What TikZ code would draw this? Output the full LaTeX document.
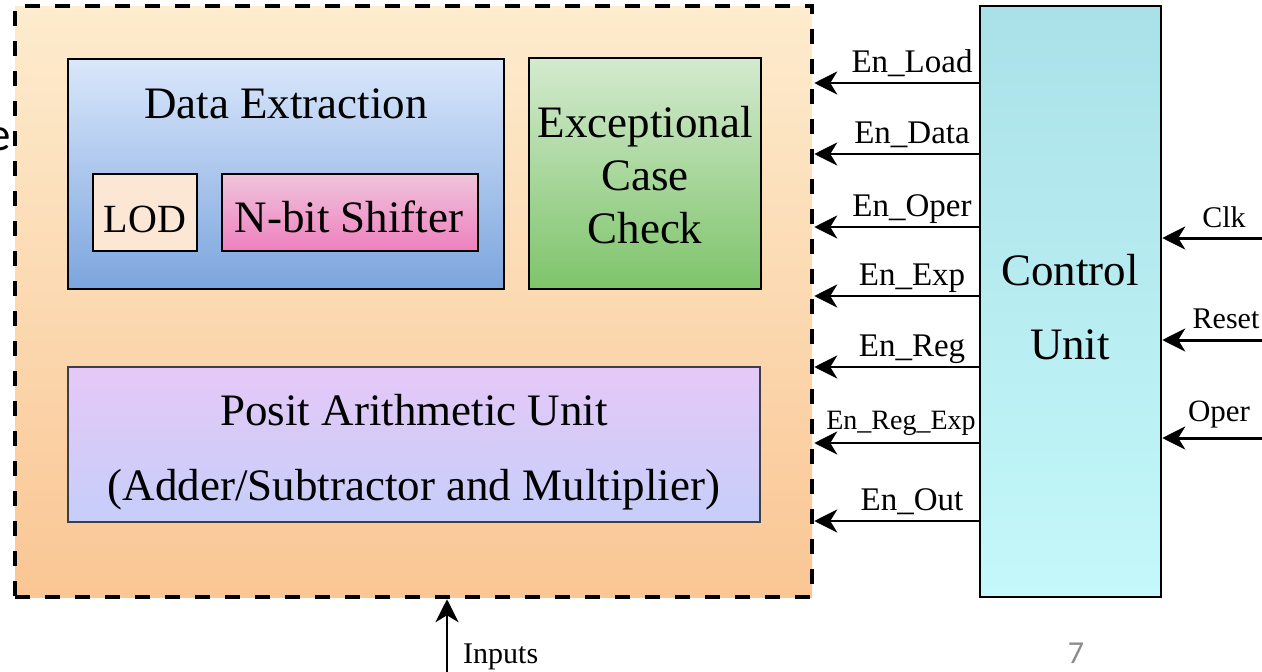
\documentclass[tikz,border=0pt]{standalone}
\usepackage{fontspec}
\setmainfont{Liberation Serif}
\newfontfamily\calfont{Carlito}
\usetikzlibrary{arrows.meta,shadings}
\definecolor{outerTop}{RGB}{253,236,206}
\definecolor{outerBot}{RGB}{250,198,148}
\definecolor{dexTop}{RGB}{218,231,251}
\definecolor{dexBot}{RGB}{124,165,222}
\definecolor{lodFill}{RGB}{252,231,213}
\definecolor{nbsTop}{RGB}{240,196,220}
\definecolor{nbsBot}{RGB}{238,128,190}
\definecolor{excTop}{RGB}{212,234,207}
\definecolor{excBot}{RGB}{126,196,106}
\definecolor{pauTop}{RGB}{229,200,248}
\definecolor{pauBot}{RGB}{198,206,249}
\definecolor{cuTop}{RGB}{170,225,232}
\definecolor{cuBot}{RGB}{196,248,250}
\definecolor{pageGray}{RGB}{140,140,140}
\begin{document}
\begin{tikzpicture}[x=1pt,y=-1pt,
  box/.style={draw=black, line width=2.5pt, rectangle, inner sep=0pt},
  big/.style={font=\fontsize{45}{54}\selectfont, anchor=base, inner sep=0pt},
  lab/.style={font=\fontsize{33}{40}\selectfont, anchor=base, inner sep=0pt},
  rlab/.style={font=\fontsize{30}{36}\selectfont, anchor=base, inner sep=0pt},
  sig/.style={line width=2.5pt, -{Stealth[length=23pt,width=23pt,inset=7pt]}}]
\useasboundingbox (0,0) rectangle (1262,672);
\clip (0,0) rectangle (1262,672);

% outer dashed container
\node[rectangle, inner sep=0pt, minimum width=797pt, minimum height=591pt,
      top color=outerTop, bottom color=outerBot, draw=black, line width=4.5pt,
      dash pattern=on 15pt off 15pt] (outer) at (413.5,301.5) {};

% Data extraction
\node[box, minimum width=436pt, minimum height=230pt, top color=dexTop, bottom color=dexBot] (dex) at (286,174) {};
\node[big] (dext) at (286,118) {Data Extraction};
\node[box, minimum width=104pt, minimum height=77pt, fill=lodFill] (lod) at (145,212.5) {};
\node[big, font=\fontsize{40}{48}\selectfont] (lodt) at (145,232) {LOD};
\node[box, minimum width=256pt, minimum height=77pt, top color=nbsTop, bottom color=nbsBot] (nbs) at (350,212.5) {};
\node[big] (nbst) at (349,232) {N-bit Shifter};

% Exceptional case check
\node[box, minimum width=232pt, minimum height=231pt, top color=excTop, bottom color=excBot] (exc) at (645,173.5) {};
\node[big] (exc1) at (645,137) {Exceptional};
\node[big] (exc2) at (645,190) {Case};
\node[big] (exc3) at (645,243) {Check};

% Posit arithmetic unit
\node[rectangle, inner sep=0pt, draw={rgb,255:red,60;green,62;blue,72}, line width=2.5pt,
      minimum width=692pt, minimum height=155pt, top color=pauTop, bottom color=pauBot] (pau) at (414,444.5) {};
\node[big] (pau1) at (414,425) {Posit Arithmetic Unit};
\node[big] (pau2) at (414,500) {(Adder/Subtractor and Multiplier)};

% Control unit
\node[box, minimum width=181pt, minimum height=591pt, top color=cuTop, bottom color=cuBot] (cu) at (1070.5,301.5) {};
\node[big] (cu1) at (1070,285) {Control};
\node[big] (cu2) at (1070,359) {Unit};

% control signals
\foreach \yy/\tt/\nn in {83/En\_Load/a, 154/En\_Data/b, 227/En\_Oper/c, 296/En\_Exp/d, 367/En\_Reg/e, 521/En\_Out/g}{
  \coordinate (y\nn) at (0,\yy);
  \draw[sig] (cu.west |- y\nn) -- (outer.east |- y\nn);
  \node[lab] (l\nn) at (912,\yy-11) {\tt};
}
\coordinate (yf) at (0,443);
\draw[sig] (cu.west |- yf) -- (outer.east |- yf);
\node[lab, font=\fontsize{28}{34}\selectfont] (lf) at (901,429) {En\_Reg\_Exp};

% inputs to control unit
\foreach \yy/\nn in {238/clk, 340/rst, 438/op}{
  \coordinate (r\nn) at (1262,\yy);
  \draw[sig, line width=3pt] (r\nn) -- (cu.east |- r\nn);
}
\node[rlab] (lclk) at (1224,227) {Clk};
\node[rlab] (lrst) at (1226,328) {Reset};
\node[rlab, font=\fontsize{31}{36}\selectfont] (lop) at (1219,421) {Oper};

% inputs arrow
\coordinate (inb) at (447,672);
\draw[sig] (inb) -- (outer.south -| inb);
\node[rlab, anchor=base west] (inl) at (463,663) {Inputs};

% slide remnants
\node[font=\calfont\fontsize{32}{38}\selectfont, text=pageGray, anchor=base, inner sep=0pt] (pg) at (1076,663) {7};
\node[font=\calfont\fontsize{47}{56}\selectfont, anchor=base east, inner sep=0pt] (ee) at (11,150) {e};
\end{tikzpicture}
\end{document}
